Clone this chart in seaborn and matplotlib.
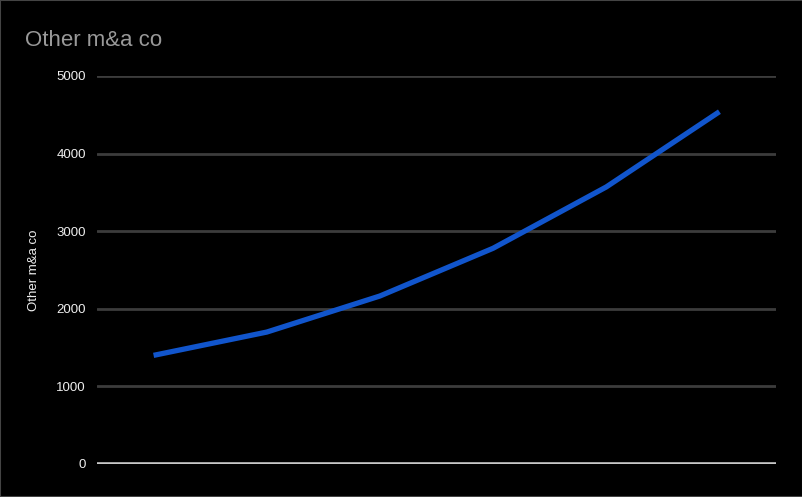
import matplotlib
matplotlib.use("Agg")
import matplotlib.pyplot as plt
import seaborn as sns
import pandas as pd
from matplotlib.patches import Rectangle

categories = ["1", "2", "3", "4", "5", "6"]
values = [1400, 1700, 2165, 2780, 3570, 4540]
yticks = [0, 1000, 2000, 3000, 4000, 5000]

sns.set_style("dark")
plt.rcParams['font.family'] = ['Liberation Sans', 'DejaVu Sans']

df = pd.DataFrame({"cat": categories, "val": values, "pos": range(len(categories))})

fig = plt.figure(figsize=(8.03, 4.97), dpi=100, facecolor="black")
W, H = 803, 497
ax = fig.add_axes([97 / W, (H - 464) / H, (776 - 97) / W, (464 - 76) / H])
ax.set_facecolor("black")

for y in yticks[1:]:
    ax.axhline(y, color="#3c3c3c", lw=2, zorder=1)
ax.axhline(0, color="#c8c8c8", lw=2.6, zorder=2)

sns.lineplot(data=df, x="pos", y="val", ax=ax, color="#1155cc", lw=3.8,
             zorder=3, solid_capstyle="butt")

ax.set_xlim(-0.5, len(categories) - 0.5)
ax.set_ylim(0, 5000)
ax.set_yticks(yticks)
ax.set_yticklabels([str(v) for v in yticks], color="#eeeeee", fontsize=9.5)
ax.set_xticks([])
ax.tick_params(axis="y", length=0, pad=8)
ax.grid(False)
for s in ax.spines.values():
    s.set_visible(False)
ax.set_xlabel("")
ax.set_ylabel("Other m&a co", color="#eeeeee", fontsize=9.5, labelpad=12)

fig.text(25 / W, 1 - 40 / H, "Other m&a co", color="#999999", fontsize=16,
         va="center", ha="left")

fig.patches.append(Rectangle((0, 0), 1, 1, transform=fig.transFigure,
                             fill=False, edgecolor="#444444", lw=1.5))

fig.savefig("out.png", dpi=100, facecolor="black")
